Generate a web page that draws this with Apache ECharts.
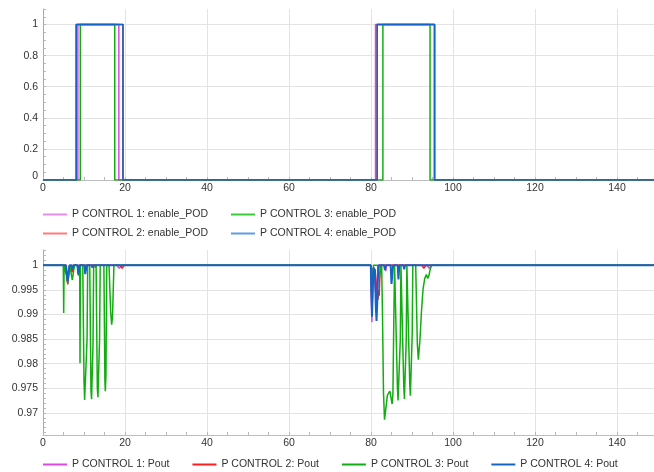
<!DOCTYPE html>
<html>
<head>
<meta charset="utf-8">
<script src="https://cdn.jsdelivr.net/npm/echarts@6/dist/echarts.min.js"></script>
<style>
  html, body { margin: 0; padding: 0; background: #fff; }
  #chart { width: 654px; height: 472px; }
</style>
</head>
<body>
<div id="chart"></div>
<script>
// Series names
const enableNames = ['P CONTROL 1: enable_POD', 'P CONTROL 2: enable_POD', 'P CONTROL 3: enable_POD', 'P CONTROL 4: enable_POD'];
const poutNames = ['P CONTROL 1: Pout', 'P CONTROL 2: Pout', 'P CONTROL 3: Pout', 'P CONTROL 4: Pout'];

// enable_POD step signals: [time, state]
const enable1 = [[0,0],[8.5,0],[8.5,1],[18.5,1],[18.5,0],[81.1,0],[81.1,1],[95.5,1],[95.5,0],[150,0]];
const enable2 = [[0,0],[8.1,0],[8.1,1],[19.5,1],[19.5,0],[81.5,0],[81.5,1],[95.5,1],[95.5,0],[150,0]];
const enable3 = [[0,0],[9.1,0],[9.1,1],[17.5,1],[17.5,0],[82.9,0],[82.9,1],[94.4,1],[94.4,0],[150,0]];
const enable4 = [[0,0],[8.1,0],[8.1,1],[19.5,1],[19.5,0],[81.5,0],[81.5,1],[95.5,1],[95.5,0],[150,0]];

// Pout traces: [time, value]
const pout1 = [[0,1],[5.6,1],[5.85,0.9973],[6.05,0.9963],[6.3,0.9987],[6.5,1],
  [6.9,1],[7.15,0.9987],[7.45,1],
  [18.0,1],[18.6,0.9994],[19.2,1],
  [79.95,1],[80.1,0.9930],[80.22,0.9884],[80.38,0.9950],[80.6,0.9995],[81.0,0.9992],[81.3,0.9930],[81.5,0.9960],[81.7,1],
  [83.4,1],[83.6,0.9988],[83.8,1],
  [93.6,1],[94.2,0.9994],[94.8,1],
  [150,1]];

const pout2 = [[0,1],[5.6,1],[5.85,0.9972],[6.05,0.9961],[6.3,0.9986],[6.5,1],
  [6.9,1],[7.15,0.9986],[7.45,1],
  [8.5,1],[8.7,0.9985],[8.9,1],
  [12.6,1],[12.8,0.9995],[13.0,1],
  [18.8,1],[19.3,0.9994],[19.8,1],
  [79.95,1],[80.1,0.9950],[80.25,0.9900],[80.4,0.9955],[80.6,0.9995],[81.0,0.9990],
  [81.3,0.9960],[81.5,0.9945],[81.7,0.9930],[81.85,0.9950],[82.0,0.9938],[82.15,0.9975],[82.3,1],
  [92.4,1],[92.9,0.9994],[93.4,1],
  [150,1]];

const pout3 = [[0,1],[4.95,1],[5.05,0.9903],[5.15,1],
  [5.6,1],[5.85,0.9975],[6.05,0.9964],[6.3,0.9988],[6.5,1],
  [6.9,1],[7.15,0.9970],[7.3,0.9967],[7.5,0.9990],[7.7,1],
  [8.4,1],[8.65,0.9979],[8.85,0.9977],[8.95,1],[9.03,0.9801],[9.12,1],
  [9.7,1],[10.0,0.9765],[10.15,0.9726],[10.35,0.9723],[10.6,0.9727],[10.75,0.9850],[10.9,1],
  [11.4,1],[11.7,0.9745],[11.85,0.9728],[12.05,0.9727],[12.2,0.9840],[12.35,1],
  [12.95,1],[13.25,0.9750],[13.4,0.9732],[13.65,0.9733],[13.8,0.9850],[13.95,1],
  [14.85,1],[15.1,0.9765],[15.2,0.9744],[15.35,0.9775],[15.55,1],
  [16.1,1],[16.5,0.9905],[16.75,0.9879],[16.95,0.9895],[17.3,1],
  [79.9,1],[80.1,0.9985],[80.25,0.9896],[80.4,0.9965],[80.6,1],
  [81.6,1],[81.8,0.9988],[82.1,0.9975],[82.35,0.9995],[82.6,1],
  [82.8,0.9900],[83.05,0.9740],[83.3,0.9686],[83.5,0.9700],[84.0,0.9736],[84.6,0.9744],[84.9,0.9730],[85.15,0.9718],[85.35,0.9740],[85.55,0.9880],[85.75,1],
  [86.1,1],[86.45,0.9750],[86.6,0.9725],[86.95,0.9726],[87.15,0.9850],[87.3,1],
  [87.7,1],[88.0,0.9752],[88.15,0.9728],[88.45,0.9728],[88.6,0.9850],[88.75,1],
  [89.2,1],[89.45,0.9760],[89.6,0.9735],[89.85,0.9735],[90.05,0.9860],[90.2,1],
  [90.9,1],[91.3,0.9840],[91.55,0.9808],[91.75,0.9811],[91.95,0.9850],[92.3,0.9905],[92.7,0.9952],[93.1,0.9973],[93.5,0.9981],[93.85,0.9973],[94.1,0.9978],[94.5,0.9994],[94.8,1],
  [150,1]];

const pout4 = [[0,1],[5.6,1],[5.85,0.9978],[6.05,0.9968],[6.3,0.9990],[6.5,1],
  [7.0,1],[7.2,0.9991],[7.4,1],
  [8.4,1],[8.6,0.9982],[8.8,0.9980],[8.95,1],
  [10.1,1],[10.3,0.9982],[10.45,0.9983],[10.65,1],
  [11.9,1],[12.05,0.9995],[12.2,1],
  [79.95,1],[80.1,0.9940],[80.25,0.9896],[80.4,0.9950],[80.6,0.9995],[80.95,0.9990],[81.2,0.9910],[81.35,0.9887],[81.55,0.9930],[81.75,0.9990],[81.9,1],
  [83.2,1],[83.4,0.9990],[83.6,1],
  [84.8,1],[85.0,0.9962],[85.2,0.9960],[85.4,1],
  [86.5,1],[86.7,0.9971],[86.9,1],
  [87.9,1],[88.1,0.9992],[88.3,1],
  [150,1]];

const enableData = [enable1, enable2, enable3, enable4];
const poutData = [pout1, pout2, pout3, pout4];

// Line colours and the paler legend swatches of the upper panel
const lineColors = ['#dc48dc', '#ff1e1e', '#12ad12', '#1464c8'];
const paleColors = ['#e58ce5', '#ff7b7b', '#3acb3a', '#5c9fe2'];
const poutWidths = [1.5, 1.5, 1.5, 2];

const FONT = 'Liberation Sans, Arial, sans-serif';
const textStyle = { fontFamily: FONT, fontSize: 10.5, color: '#333' };

function fmt(v) { return String(parseFloat(Number(v).toFixed(4))); }

function mainX(gridIndex) {
  return {
    type: 'value', gridIndex, min: 0, max: 150, minInterval: 20, maxInterval: 20,
    axisLine: { show: true, lineStyle: { color: '#bdbdbd', width: 1 } },
    axisTick: { show: false },
    axisLabel: { ...textStyle, margin: 3, showMaxLabel: false },
    splitLine: { show: true, showMaxLine: false, lineStyle: { color: '#e3e3e3', width: 1 } }
  };
}
function minorX(gridIndex) {
  return {
    type: 'value', gridIndex, position: 'bottom', min: 0, max: 150, minInterval: 5, maxInterval: 5,
    axisLine: { show: false },
    axisTick: { show: true, inside: true, length: 3, lineStyle: { color: '#b8b8b8' } },
    axisLabel: { show: false },
    splitLine: { show: false }
  };
}
function minorY(gridIndex, min, max, step) {
  return {
    type: 'value', gridIndex, position: 'left', min, max, minInterval: step, maxInterval: step,
    axisLine: { show: false },
    axisTick: { show: true, inside: true, length: 3, lineStyle: { color: '#b8b8b8' } },
    axisLabel: { show: false },
    splitLine: { show: false }
  };
}

const series = [];
enableNames.forEach((name, i) => {
  series.push({
    name, type: 'line', xAxisIndex: 0, yAxisIndex: 0, data: enableData[i],
    symbol: 'none', showSymbol: false, animation: false, z: 2 + i,
    lineStyle: { width: 1.5, color: lineColors[i] }, itemStyle: { color: lineColors[i] }
  });
});
poutNames.forEach((name, i) => {
  series.push({
    name, type: 'line', xAxisIndex: 1, yAxisIndex: 1, data: poutData[i],
    symbol: 'none', showSymbol: false, animation: false, z: 2 + i,
    lineStyle: { width: poutWidths[i], color: lineColors[i] }, itemStyle: { color: lineColors[i] }
  });
});

const legendBase = {
  padding: 0, itemWidth: 24, itemHeight: 2, icon: 'rect',
  textStyle: { ...textStyle, lineHeight: 13 }, selectedMode: false
};

const option = {
  animation: false,
  backgroundColor: '#fff',
  grid: [
    { left: 43, top: 9, right: -4, height: 171, containLabel: false, outerBoundsMode: 'none' },
    { left: 43, top: 250, right: -4, height: 185, containLabel: false, outerBoundsMode: 'none' }
  ],
  xAxis: [mainX(0), mainX(1), minorX(0), minorX(1)],
  yAxis: [
    {
      type: 'value', gridIndex: 0, min: 0, max: 1.1, minInterval: 0.2, maxInterval: 0.2,
      axisLine: { show: true, lineStyle: { color: '#a8a8a8', width: 1 } },
      axisTick: { show: false },
      axisLabel: {
        ...textStyle, margin: 5, showMaxLabel: false,
        formatter: v => (Math.abs(v) < 1e-9 ? '{lo|0}' : fmt(v)),
        rich: { lo: { ...textStyle, padding: [0, 0, 7, 0] } }
      },
      splitLine: { show: true, showMaxLine: false, lineStyle: { color: '#e3e3e3', width: 1 } }
    },
    {
      type: 'value', gridIndex: 1, min: 0.9655, max: 1.0031, minInterval: 0.005, maxInterval: 0.005,
      axisLine: { show: true, lineStyle: { color: '#a8a8a8', width: 1 } },
      axisTick: { show: false },
      axisLabel: { ...textStyle, margin: 5, showMinLabel: false, showMaxLabel: false, formatter: fmt },
      splitLine: { show: true, showMinLine: false, showMaxLine: false, lineStyle: { color: '#e3e3e3', width: 1 } }
    },
    minorY(0, 0, 1.1, 0.05),
    minorY(1, 0.9655, 1.0031, 0.001)
  ],
  legend: [
    { ...legendBase, orient: 'vertical', left: 43, top: 208, itemGap: 6,
      data: [0, 1].map(i => ({ name: enableNames[i], itemStyle: { color: paleColors[i] } })) },
    { ...legendBase, orient: 'vertical', left: 231, top: 208, itemGap: 6,
      data: [2, 3].map(i => ({ name: enableNames[i], itemStyle: { color: paleColors[i] } })) },
    { ...legendBase, orient: 'horizontal', left: 43, top: 458, itemGap: 23,
      data: poutNames.map((n, i) => ({ name: n, itemStyle: { color: lineColors[i] } })) }
  ],
  series
};

const chart = echarts.init(document.getElementById('chart'), null, { renderer: 'canvas' });
chart.setOption(option);
</script>
</body>
</html>
